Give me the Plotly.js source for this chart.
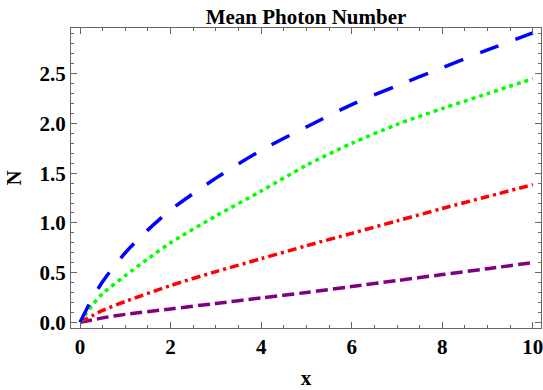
<!DOCTYPE html>
<html>
<head>
<meta charset="utf-8">
<script src="https://cdn.plot.ly/plotly-3.0.1.min.js"></script>
<style>html,body{margin:0;padding:0;background:#fff}#chart{width:543px;height:390px}</style>
</head>
<body>
<div id="chart"></div>
<script>
// Data
var blueX   = [0, 0.2, 0.5, 1, 1.5, 2, 3, 4, 5, 6, 7, 8, 9, 10];
var blueY   = [0, 0.18, 0.41, 0.70, 0.93, 1.13, 1.45, 1.73, 1.965, 2.19, 2.38, 2.56, 2.74, 2.91];
var greenX  = [0, 0.25, 0.5, 1, 1.5, 2, 3, 4, 5, 6, 7, 8, 9, 10];
var greenY  = [0, 0.16, 0.29, 0.47, 0.64, 0.80, 1.07, 1.32, 1.58, 1.80, 1.99, 2.15, 2.30, 2.45];
var redX    = [0, 0.5, 1, 2, 3, 4, 5, 6, 7, 8, 9, 10];
var redY    = [0, 0.12, 0.21, 0.37, 0.51, 0.64, 0.77, 0.895, 1.02, 1.145, 1.265, 1.385];
var purpleX = [0, 0.5, 1, 2, 3, 4, 5, 6, 7, 8, 9, 10];
var purpleY = [0, 0.045, 0.08, 0.135, 0.19, 0.245, 0.30, 0.36, 0.42, 0.48, 0.54, 0.60];
var xTicks = [0, 2, 4, 6, 8, 10];
var yTicks = [0.0, 0.5, 1.0, 1.5, 2.0, 2.5];
var yTickText = ["0.0", "0.5", "1.0", "1.5", "2.0", "2.5"];

var fontFam = "Liberation Serif, Times New Roman, serif";
function tr(x, y, color, dash) {
  return {x: x, y: y, type: 'scatter', mode: 'lines',
    line: {color: color, width: 3.5, dash: dash, shape: 'spline', smoothing: 0.8},
    hoverinfo: 'skip', showlegend: false};
}
var data = [
  tr(purpleX, purpleY, '#800080', '12px,5px'),
  tr(redX, redY, '#FF0000', '9px,4px,3px,4px'),
  tr(greenX, greenY, '#00FF00', '4px,4px'),
  tr(blueX, blueY, '#0000FF', '20px,18px')
];
var axCol = '#666666';
var layout = {
  width: 543, height: 390,
  margin: {l: 71, r: 2, t: 28, b: 62, pad: 0},
  paper_bgcolor: '#fff', plot_bgcolor: '#fff',
  title: {text: 'Mean Photon Number', x: 0.5, xref: 'paper', xanchor: 'center',
    y: 0.958, yref: 'container', yanchor: 'middle',
    font: {family: fontFam, size: 21, color: '#000', weight: 'bold'}},
  xaxis: {
    range: [-0.2, 10.18], tickvals: xTicks, ticktext: xTicks.map(String),
    ticks: 'inside', ticklen: 6, tickwidth: 1, tickcolor: axCol,
    showline: true, linecolor: axCol, linewidth: 1, mirror: 'ticks',
    showgrid: false, zeroline: false, ticklabeloverflow: 'allow',
    minor: {dtick: 0.5, tick0: 0, ticks: 'inside', ticklen: 3, tickcolor: axCol, tickwidth: 1, showgrid: false},
    tickfont: {family: fontFam, size: 21, color: '#000', weight: 'bold'},
    title: {text: 'x', standoff: 12, font: {family: fontFam, size: 21, color: '#000', weight: 'bold'}}
  },
  yaxis: {
    range: [-0.057, 2.96], tickvals: yTicks, ticktext: yTickText,
    ticks: 'inside', ticklen: 6, tickwidth: 1, tickcolor: axCol,
    showline: true, linecolor: axCol, linewidth: 1, mirror: 'ticks',
    showgrid: false, zeroline: false, ticklabeloverflow: 'allow',
    minor: {dtick: 0.1, tick0: 0, ticks: 'inside', ticklen: 3, tickcolor: axCol, tickwidth: 1, showgrid: false},
    tickfont: {family: fontFam, size: 21, color: '#000', weight: 'bold'},
    title: {text: 'N', standoff: 12, font: {family: fontFam, size: 21, color: '#000', weight: 'bold'}}
  }
};
Plotly.newPlot('chart', data, layout, {staticPlot: true, displayModeBar: false});
</script>
</body>
</html>
